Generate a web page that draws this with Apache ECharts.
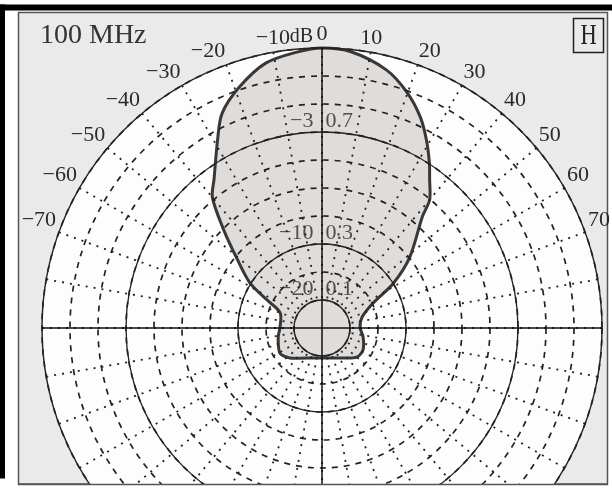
<!DOCTYPE html>
<html><head><meta charset="utf-8">
<script src="https://cdn.jsdelivr.net/npm/echarts@6/dist/echarts.min.js"></script>
<style>html,body{margin:0;padding:0;background:#fff}#c{width:612px;height:496px}</style>
</head><body><div id="c"></div>
<script>
// ---- data ----
const titleText = '100 MHz';
const polText = 'H';
const unitText = 'dB';
const angleTicks = [-70,-60,-50,-40,-30,-20,-10,0,10,20,30,40,50,60,70];
const gridRings = [0.1, 0.3, 0.7, 1.0];          // solid rings (linear field)
const ringLabelValues = [0.1, 0.3, 0.7];
const ringDbLabels = ['−20', '−10', '−3'];
const ringLinLabels = ['0.1', '0.3', '0.7'];
const lobeAngles = [-180, -170, -144, -133, -121, -102, -89, -70, -63, -58, -51, -45, -40, -36, -29, -25, -19, -12, -5, 0, 6, 14, 20, 25, 29, 33, 36, 40, 42, 51, 58, 64, 75, 89, 102, 118, 130, 149, 170];
const lobeRadii  = [0.107, 0.109, 0.133, 0.157, 0.175, 0.160, 0.150, 0.159, 0.220, 0.303, 0.389, 0.497, 0.609, 0.656, 0.769, 0.845, 0.909, 0.967, 0.990, 1.000, 0.992, 0.950, 0.893, 0.831, 0.769, 0.704, 0.654, 0.598, 0.536, 0.404, 0.300, 0.203, 0.148, 0.136, 0.150, 0.166, 0.162, 0.125, 0.109];

// ---- layout ----
const R = 280, C = [322, 328];
const FONT = '"Liberation Serif", "DejaVu Serif", serif';
const INK = '#222';

const chart = echarts.init(document.getElementById('c'));
const fmtAngle = v => angleTicks.includes(v) ? (v < 0 ? '−' + (-v) : String(v)) : '';

const option = {
  animation: false,
  backgroundColor: '#ffffff',
  polar: [
    {center: C, radius: [0, R]},
    {center: C, radius: [gridRings[0] * R, gridRings[3] * R]},
    {center: C, radius: [gridRings[1] * R, gridRings[2] * R]},
    {center: C, radius: [0, R]}
  ],
  angleAxis: [
    {polarIndex:0, type:'value', min:-180, max:180, interval:90, startAngle:270, clockwise:true, z:0,
      axisLine:{show:false}, axisTick:{show:false}, axisLabel:{show:false}, splitLine:{show:false},
      splitArea:{show:true, areaStyle:{color:['#fdfdfd']}}},
    {polarIndex:1, type:'value', min:-180, max:180, interval:10, startAngle:270, clockwise:true, z:5,
      axisLine:{show:true, lineStyle:{color:INK, width:1.4}},
      axisTick:{show:false},
      axisLabel:{show:true, margin:3, formatter:fmtAngle, fontFamily:FONT, fontSize:22, color:'#2a2a2a'},
      splitLine:{show:true, lineStyle:{color:INK, width:1.8, type:[2,6]}}},
    {polarIndex:2, type:'value', min:-180, max:180, interval:90, startAngle:270, clockwise:true, z:5,
      axisLine:{show:true, lineStyle:{color:INK, width:1.3}},
      axisTick:{show:false}, axisLabel:{show:false}, splitLine:{show:false}},
    {polarIndex:3, type:'value', min:-180, max:180, interval:90, startAngle:270, clockwise:true, z:6,
      axisLine:{show:false}, axisTick:{show:false}, axisLabel:{show:false},
      splitLine:{show:true, lineStyle:{color:'#111', width:1.5, type:'solid'}}}
  ],
  radiusAxis: [
    {polarIndex:0, type:'value', min:0, max:1, show:false},
    {polarIndex:1, type:'value', min:0.1, max:1, interval:0.1, z:5,
      axisLine:{show:false}, axisTick:{show:false}, axisLabel:{show:false},
      splitLine:{show:true, lineStyle:{color:INK, width:1.7, type:[6,6]}}},
    {polarIndex:2, type:'value', min:0.3, max:0.7, show:false},
    {polarIndex:3, type:'value', min:0, max:1, show:false}
  ],
  series: [
    {
      type:'custom', coordinateSystem:'polar', polarIndex:1, z:1, silent:true,
      data: lobeRadii.map((r, i) => [r, lobeAngles[i]]),
      renderItem: function (params, api) {
        if (params.dataIndex !== 0) return null;
        const pts = lobeRadii.map((r, i) => api.coord([r, lobeAngles[i]]));
        return {type:'polygon', shape:{points:pts, smooth:0.3},
          style:{fill:'#e0dcd9', stroke:'#383838', lineWidth:3}};
      }
    },
    {
      type:'scatter', coordinateSystem:'polar', polarIndex:1, z:8, silent:true,
      symbolSize:1, itemStyle:{color:'rgba(0,0,0,0)'},
      data: ringLabelValues.map(v => [v, 0]),
      label:{show:true, position:'left', distance:8, offset:[0,-11], fontFamily:FONT, fontSize:22, color:'#2a2a2a',
        formatter: p => ringDbLabels[p.dataIndex]}
    },
    {
      type:'scatter', coordinateSystem:'polar', polarIndex:1, z:8, silent:true,
      symbolSize:1, itemStyle:{color:'rgba(0,0,0,0)'},
      data: ringLabelValues.map(v => [v, 0]),
      label:{show:true, position:'right', distance:3, offset:[0,-11], fontFamily:FONT, fontSize:22, color:'#2a2a2a',
        formatter: p => ringLinLabels[p.dataIndex]}
    }
  ],
  graphic: [
    {type:'rect', z:-10, shape:{x:18.5, y:12.5, width:589, height:471.5}, style:{fill:'#eaeaea', stroke:'#555', lineWidth:1.5}},
    {type:'rect', z:50, shape:{x:0, y:4.5, width:612, height:6}, style:{fill:'#000'}},
    {type:'rect', z:50, shape:{x:0, y:4.5, width:5, height:474}, style:{fill:'#000'}},
    {type:'rect', z:50, shape:{x:5, y:485, width:607, height:11}, style:{fill:'#fff'}},
    {type:'line', z:51, shape:{x1:18, y1:484.5, x2:608, y2:484.5}, style:{stroke:'#555', lineWidth:1.5}},
    {type:'text', z:50, x:40, y:36, style:{text:titleText, font:'28px ' + FONT, fill:'#333', align:'left', verticalAlign:'middle', textAlign:'left', textVerticalAlign:'middle'}},
    {type:'rect', z:50, shape:{x:573.5, y:18.5, width:30, height:34}, style:{fill:'none', stroke:'#222', lineWidth:1.5}},
    {type:'text', z:51, x:588.5, y:36, scaleX:0.75, style:{text:polText, font:'30px ' + FONT, fill:'#222', align:'center', verticalAlign:'middle', textAlign:'center', textVerticalAlign:'middle'}},
    {type:'text', z:50, x:313, y:37, style:{text:unitText, font:'20px ' + FONT, fill:'#2a2a2a', align:'right', verticalAlign:'middle', textAlign:'right', textVerticalAlign:'middle'}}
  ]
};
chart.setOption(option);
</script>
</body></html>
